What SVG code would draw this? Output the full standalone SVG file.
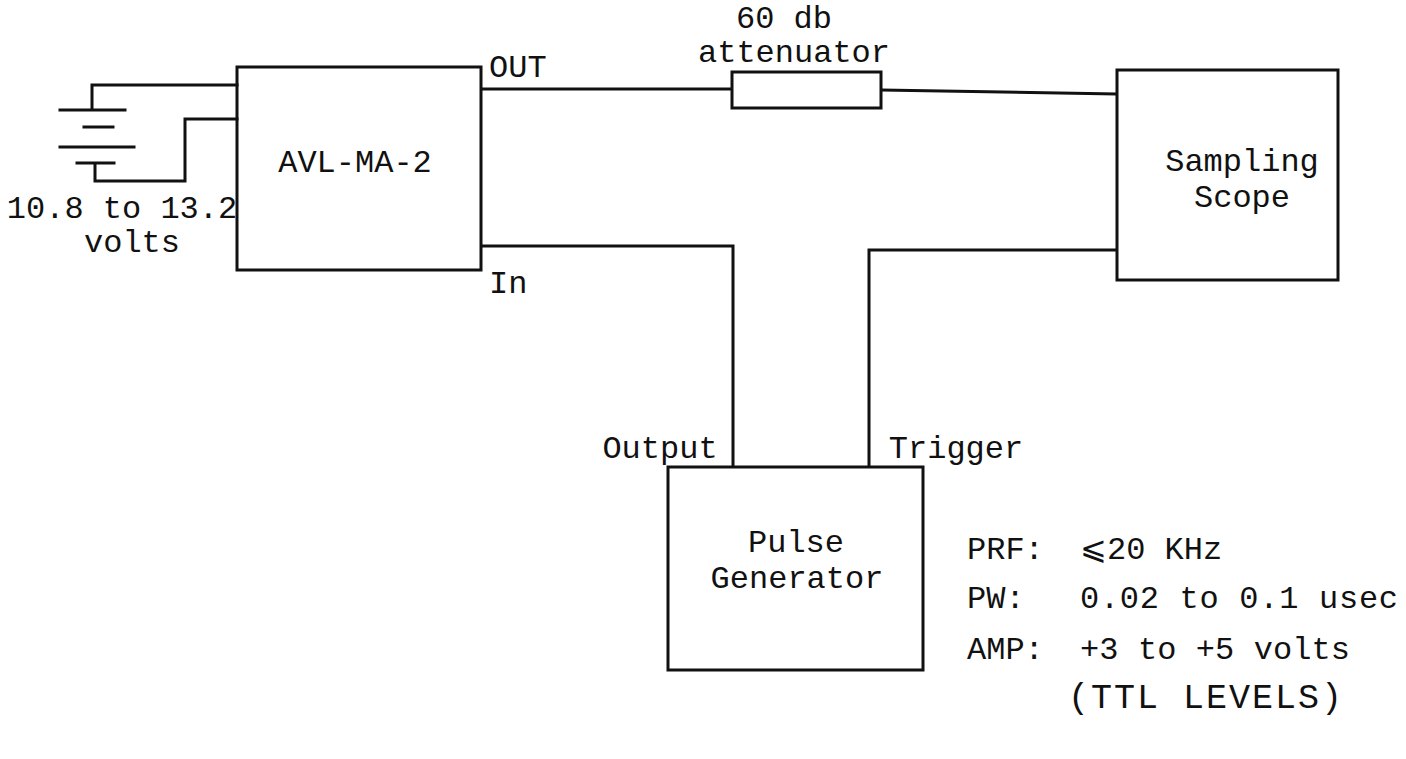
<svg xmlns="http://www.w3.org/2000/svg" width="1406" height="759" viewBox="0 0 1406 759">
<style>
.b{fill:none;stroke:#111;stroke-width:3}
.w{fill:none;stroke:#111;stroke-width:3;stroke-linecap:square}
text{font-family:"Liberation Mono","DejaVu Sans Mono",monospace;font-size:32px;fill:#111}
.m{text-anchor:middle}
</style>
<rect width="1406" height="759" fill="#fff"/>
<g id="battery">
<path class="w" d="M92 109V85H237M60 110H125M84 127H113M60 147H134M77 163H114M95 163V181H185V119H237"/>
<text x="122" y="218" class="m">10.8 to 13.2</text>
<text x="132" y="252" class="m">volts</text>
</g>
<g id="avl">
<rect class="b" x="237" y="67" width="244" height="203"/>
<text x="355" y="172" class="m">AVL-MA-2</text>
<text x="489" y="77">OUT</text>
<text x="489" y="293">In</text>
</g>
<g id="attenuator">
<rect class="b" x="732" y="72" width="149" height="36"/>
<text x="784" y="28" class="m">60 db</text>
<text x="794" y="62" class="m">attenuator</text>
</g>
<g id="scope">
<rect class="b" x="1117" y="70" width="221" height="210"/>
<text x="1242" y="171" class="m">Sampling</text>
<text x="1242" y="207" class="m">Scope</text>
</g>
<g id="pulsegen">
<rect class="b" x="668" y="467" width="255" height="203"/>
<text x="796" y="552" class="m">Pulse</text>
<text x="797" y="588" class="m">Generator</text>
<text x="660" y="458" class="m">Output</text>
<text x="956" y="458" class="m">Trigger</text>
</g>
<g id="specs">
<text x="967" y="559">PRF:</text>
<text x="1080" y="559">⩽20 KHz</text>
<text x="967" y="608">PW:</text>
<text x="1080" y="608" textLength="318">0.02 to 0.1 usec</text>
<text x="967" y="659">AMP:</text>
<text x="1080" y="659" textLength="270">+3 to +5 volts</text>
<text x="1068" y="708" style="font-size:35px" textLength="274">(TTL LEVELS)</text>
</g>
<g id="connectors">
<path class="b" d="M481 89H732M881 90L1117 94"/>
<path class="b" d="M481 246H733V467"/>
<path class="b" d="M1117 250H869V467"/>
</g>
</svg>
